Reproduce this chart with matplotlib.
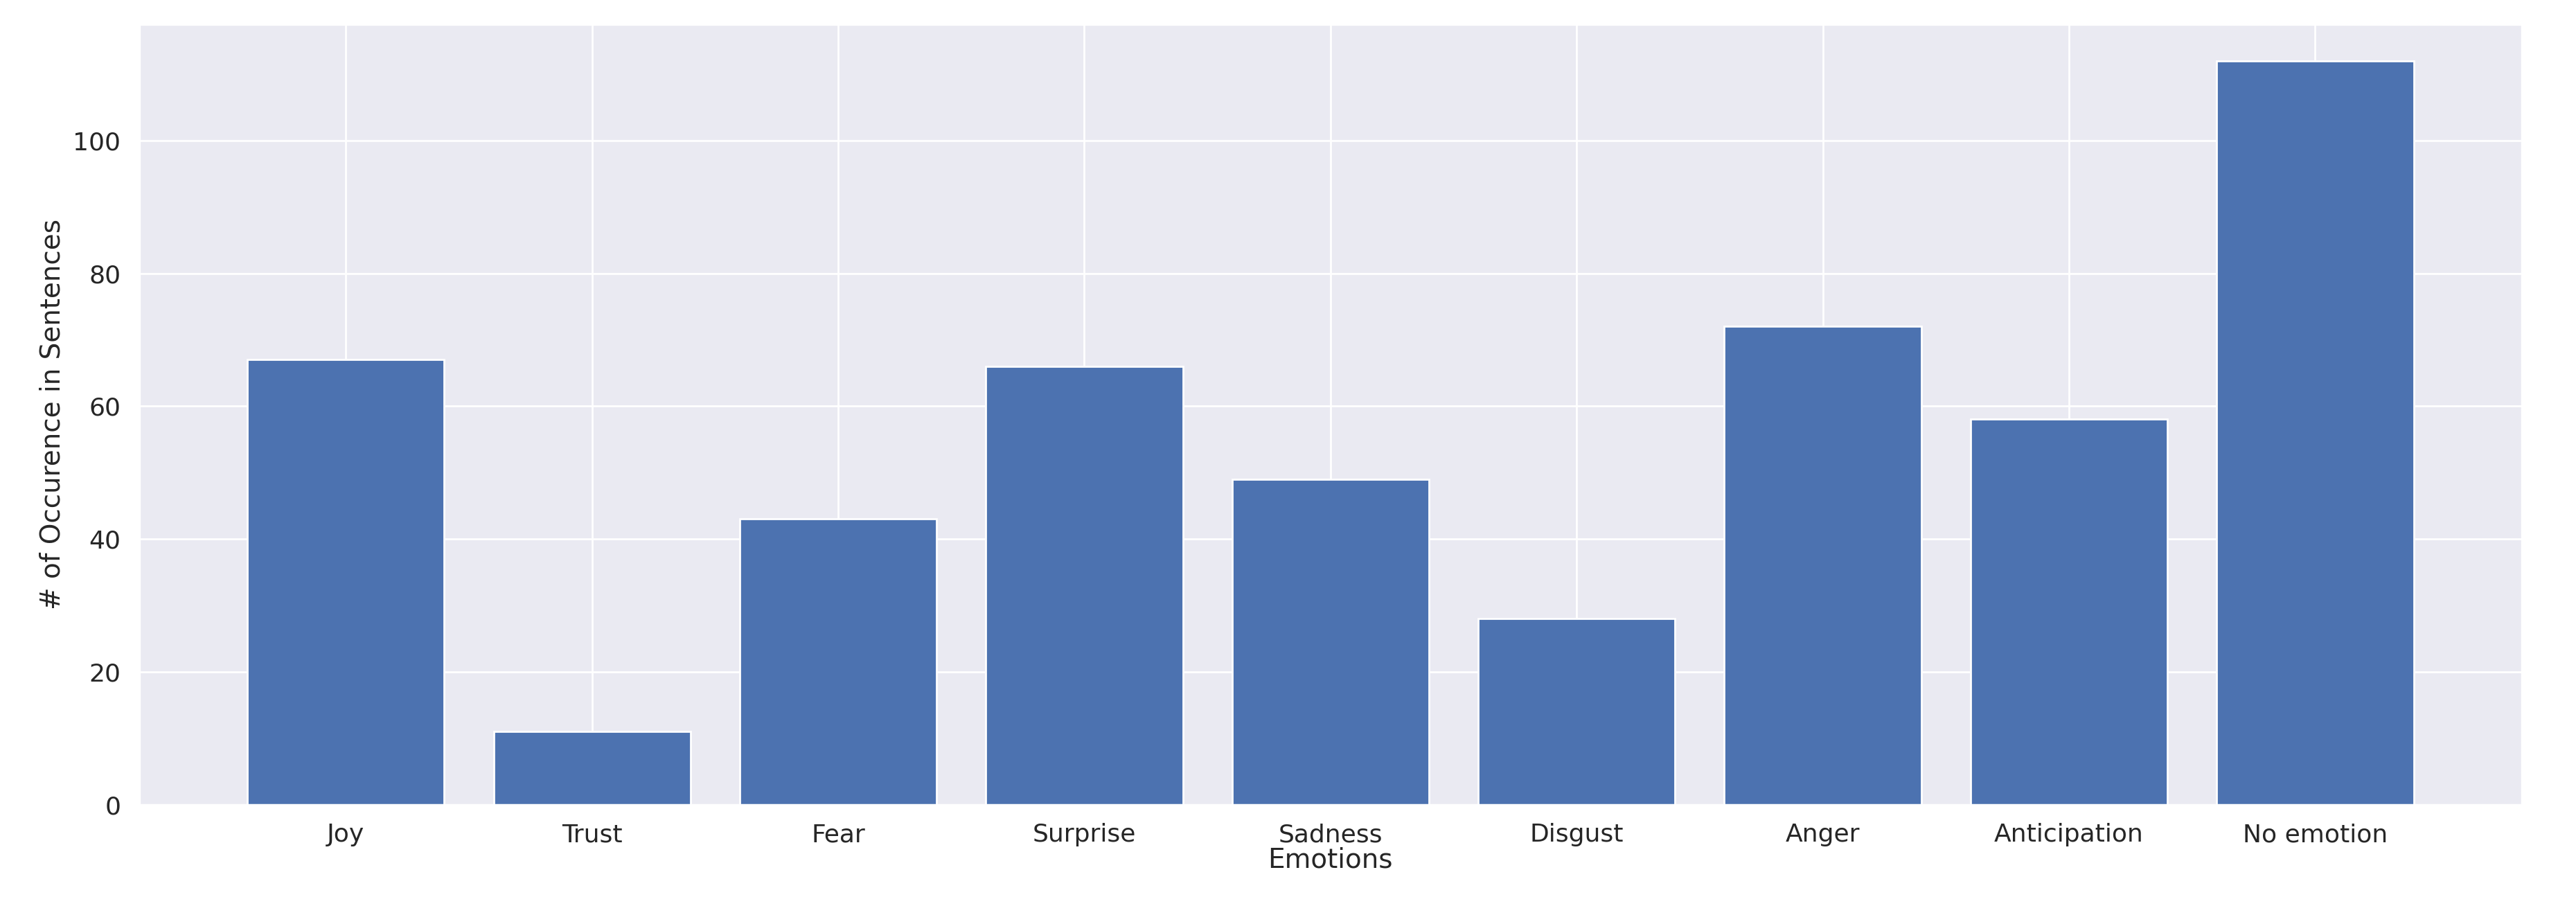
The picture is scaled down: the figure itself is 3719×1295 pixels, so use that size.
import matplotlib
matplotlib.use('Agg')
import matplotlib.pyplot as plt
import seaborn as sns

sns.set_theme(style='darkgrid')
plt.rcParams['font.family'] = ['DejaVu Sans']

emotions = ['Joy', 'Trust', 'Fear', 'Surprise', 'Sadness', 'Disgust', 'Anger', 'Anticipation', 'No emotion']
counts = [67, 11, 43, 66, 49, 28, 72, 58, 112]

fig, ax = plt.subplots(figsize=(18.595, 6.475), dpi=200)
ax.bar(emotions, counts, color='#4c72b0', width=0.8)
ax.set_xlabel('Emotions', fontsize=14, labelpad=0)
ax.set_ylabel('# of Occurence in Sentences', fontsize=14)
ax.tick_params(labelsize=13)
ax.set_ylim(0, 117.5)

fig.subplots_adjust(left=0.054, right=0.979, top=0.973, bottom=0.103)
fig.savefig('out.png', dpi=200)
